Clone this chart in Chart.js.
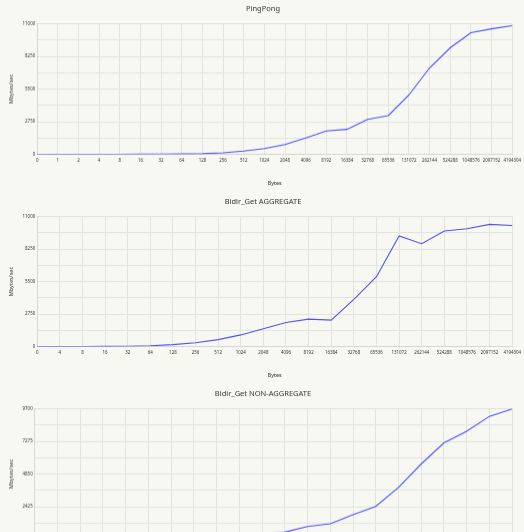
<!DOCTYPE html>
<html>
<head>
<meta charset="utf-8">
<script src="https://cdn.jsdelivr.net/npm/chart.js@4.4.1/dist/chart.umd.min.js"></script>
<style>
  html, body { margin: 0; padding: 0; background: #f8f8f3; }
  .box { width: 524px; height: 192.5px; position: relative; }
</style>
</head>
<body>
<div class="box"><canvas id="chart1"></canvas></div>
<div class="box"><canvas id="chart2"></canvas></div>
<div class="box"><canvas id="chart3"></canvas></div>
<script>
// x categories (message size in bytes)
const bytesPingPong = ['0', '1', '2', '4', '8', '16', '32', '64', '128', '256', '512', '1024', '2048', '4096',
  '8192', '16384', '32768', '65536', '131072', '262144', '524288', '1048576', '2097152', '4194304'];
const bytesBidir = ['0', '4', '8', '16', '32', '64', '128', '256', '512', '1024', '2048', '4096',
  '8192', '16384', '32768', '65536', '131072', '262144', '524288', '1048576', '2097152', '4194304'];

// Mbytes/sec
const pingPong = [5, 5, 8, 12, 15, 20, 25, 40, 60, 140, 280, 490, 840, 1380, 1970, 2110, 2950, 3270,
  5000, 7280, 8970, 10240, 10570, 10830];
const bidirAggregate = [5, 8, 12, 18, 30, 70, 170, 330, 590, 990, 1510, 2040, 2320, 2240, 4000, 5910,
  9350, 8700, 9770, 9960, 10330, 10240];
const bidirNonAggregate = [5, 8, 12, 18, 28, 45, 75, 130, 210, 300, 400, 540, 965, 1170, 1830, 2450,
  3860, 5600, 7160, 8020, 9130, 9680];

// y axis max per chart (labels every other grid line)
const yMax = [11000, 11000, 9700];

const fontFamily = '"Noto Sans", "Open Sans", sans-serif';
const gridColor = '#e3e3df';

function makeChart(id, title, labels, values, max) {
  const ctx = document.getElementById(id).getContext('2d');
  return new Chart(ctx, {
    type: 'line',
    data: {
      labels: labels,
      datasets: [{
        label: title,
        data: values,
        borderColor: 'rgb(80, 80, 255)',
        borderWidth: 1.1,
        pointRadius: 0,
        tension: 0,
        fill: false
      }]
    },
    options: {
      responsive: true,
      maintainAspectRatio: false,
      animation: false,
      layout: { padding: { left: 8, right: 6, top: 0, bottom: 7 } },
      plugins: {
        legend: { display: false },
        tooltip: { enabled: false },
        title: {
          display: true,
          text: title,
          color: '#333',
          font: { family: fontFamily, size: 7.5, weight: 'normal' },
          padding: { top: 4, bottom: 10.5 }
        }
      },
      scales: {
        x: {
          grid: { color: gridColor, drawTicks: false },
          border: { color: '#d6d6d2' },
          ticks: {
            color: '#333',
            font: { family: fontFamily, size: 4.4 },
            padding: 3,
            autoSkip: false,
            maxRotation: 0,
            minRotation: 0
          },
          title: {
            display: true,
            text: 'Bytes',
            color: '#333',
            font: { family: fontFamily, size: 5.5 },
            padding: { top: 14, bottom: 0 }
          }
        },
        y: {
          min: 0,
          max: max,
          grid: { color: gridColor, drawTicks: false },
          border: { color: '#d6d6d2' },
          ticks: {
            stepSize: max / 8,
            color: '#333',
            font: { family: fontFamily, size: 4.4 },
            padding: 2,
            callback: function (value, index) {
              return index % 2 === 0 ? value : '';
            }
          },
          title: {
            display: true,
            text: 'Mbytes/sec',
            color: '#333',
            font: { family: fontFamily, size: 5.5 },
            padding: { top: 0, bottom: 6 }
          }
        }
      }
    }
  });
}

makeChart('chart1', 'PingPong', bytesPingPong, pingPong, yMax[0]);
makeChart('chart2', 'Bidir_Get AGGREGATE', bytesBidir, bidirAggregate, yMax[1]);
makeChart('chart3', 'Bidir_Get NON-AGGREGATE', bytesBidir, bidirNonAggregate, yMax[2]);
</script>
</body>
</html>
